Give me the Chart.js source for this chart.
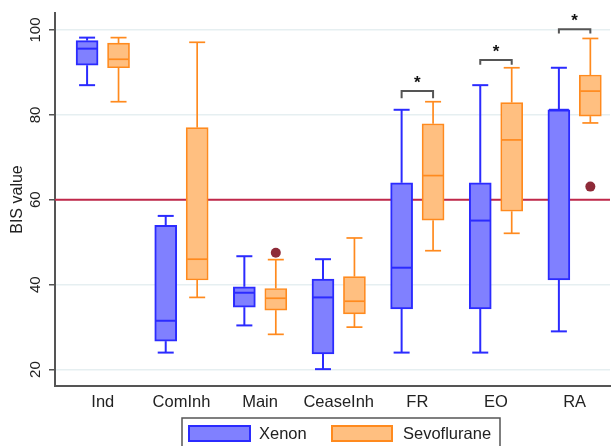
<!DOCTYPE html>
<html><head><meta charset="utf-8">
<script src="https://cdn.jsdelivr.net/npm/chart.js@4.4.1/dist/chart.umd.min.js"></script>
<style>html,body{margin:0;padding:0;background:#fff}#wrap{width:615px;height:446px}</style>
</head><body><div id="wrap"><canvas id="c" width="615" height="446"></canvas></div>
<script>
const categories = ['Ind','ComInh','Main','CeaseInh','FR','EO','RA'];
const xenonMin    = [87.0, 24.0, 30.4, 20.1, 24.0, 24.0, 29.0];
const xenonQ1     = [91.7, 26.7, 34.7, 23.7, 34.3, 34.3, 41.1];
const xenonMedian = [95.6, 31.5, 38.1, 37.0, 44.0, 55.1, 81.2];
const xenonQ3     = [97.5, 54.0, 39.5, 41.3, 64.0, 64.0, 81.2];
const xenonMax    = [98.2, 56.2, 46.7, 46.0, 81.2, 87.0, 91.1];
const sevoMin     = [83.1, 37.0, 28.3, 30.0, 48.0, 52.1, 78.1];
const sevoQ1      = [91.1, 41.1, 34.0, 33.1, 55.2, 57.3, 79.7];
const sevoMedian  = [93.1, 46.0, 36.8, 36.1, 65.7, 74.1, 85.6];
const sevoQ3      = [96.9, 77.0, 39.1, 41.9, 77.9, 82.9, 89.4];
const sevoMax     = [98.2, 97.1, 45.9, 51.0, 83.1, 91.1, 98.0];
const outlierCategory = ['Main', 'RA'];
const outlierValue    = [47.5, 63.1];
const yTicks = [20, 40, 60, 80, 100];
const referenceValue = 60;
const significantCategory = ['FR', 'EO', 'RA'];
const bracketTop = [85.6, 92.9, 100.2];
const bracketLow = [83.9, 91.8, 99.2];
const seriesNames = ['Xenon', 'Sevoflurane'];

// styles
const XEN_LINE = '#2b2bff', XEN_FILL = '#8080ff';
const SEV_LINE = '#ff8a1e', SEV_FILL = '#ffbf80';
const OUT_COLOR = '#8e2a38', REF_COLOR = '#c0284a';
const OFF = 0.2, BOXW = 22, CAPW = 16;
const FONT = "'Liberation Sans', Arial, sans-serif";

const pos = name => categories.indexOf(name) + 1;

const extras = {
  id: 'extras',
  beforeDatasetsDraw(chart) {
    const {ctx, chartArea: a, scales: {y}} = chart;
    const py = y.getPixelForValue(referenceValue);
    ctx.save();
    ctx.strokeStyle = REF_COLOR; ctx.lineWidth = 2;
    ctx.beginPath(); ctx.moveTo(a.left, py); ctx.lineTo(a.right, py); ctx.stroke();
    ctx.restore();
  },
  afterDatasetsDraw(chart) {
    const {ctx, scales: {x, y}} = chart;
    const groups = [
      {mn: xenonMin, q1: xenonQ1, md: xenonMedian, q3: xenonQ3, mx: xenonMax, off: -OFF, c: XEN_LINE, lw: 2},
      {mn: sevoMin, q1: sevoQ1, md: sevoMedian, q3: sevoQ3, mx: sevoMax, off: OFF, c: SEV_LINE, lw: 1.7}
    ];
    const seg = (x1, y1, x2, y2) => { ctx.beginPath(); ctx.moveTo(x1, y1); ctx.lineTo(x2, y2); ctx.stroke(); };
    ctx.save();
    groups.forEach(g => {
      ctx.strokeStyle = g.c; ctx.lineWidth = g.lw;
      categories.forEach((c, i) => {
        const cx = x.getPixelForValue(i + 1 + g.off);
        const pMax = y.getPixelForValue(g.mx[i]), pMin = y.getPixelForValue(g.mn[i]);
        seg(cx, y.getPixelForValue(g.q3[i]), cx, pMax);
        seg(cx - CAPW / 2, pMax, cx + CAPW / 2, pMax);
        seg(cx, y.getPixelForValue(g.q1[i]), cx, pMin);
        seg(cx - CAPW / 2, pMin, cx + CAPW / 2, pMin);
        const pm = y.getPixelForValue(g.md[i]);
        seg(cx - BOXW / 2 + 1, pm, cx + BOXW / 2 - 1, pm);
      });
    });
    // significance brackets
    ctx.strokeStyle = '#555'; ctx.lineWidth = 2;
    ctx.fillStyle = '#111'; ctx.font = 'bold 17px ' + FONT;
    ctx.textAlign = 'center'; ctx.textBaseline = 'alphabetic';
    significantCategory.forEach((name, k) => {
      const p = pos(name);
      const x1 = x.getPixelForValue(p - OFF), x2 = x.getPixelForValue(p + OFF);
      const yt = y.getPixelForValue(bracketTop[k]), yl = y.getPixelForValue(bracketLow[k]);
      ctx.beginPath(); ctx.moveTo(x1, yl); ctx.lineTo(x1, yt); ctx.lineTo(x2, yt); ctx.lineTo(x2, yl); ctx.stroke();
      ctx.fillText('*', x.getPixelForValue(p), yt - 3);
    });
    ctx.restore();
  },
  afterDraw(chart) {
    const {ctx} = chart;
    ctx.save();
    ctx.strokeStyle = '#555'; ctx.lineWidth = 1.5;
    ctx.strokeRect(182, 418, 318, 40);
    const items = [
      {x: 189, w: 61, tx: 259, fill: XEN_FILL, line: XEN_LINE},
      {x: 332, w: 60, tx: 403, fill: SEV_FILL, line: SEV_LINE}
    ];
    ctx.font = '16.5px ' + FONT; ctx.textBaseline = 'middle'; ctx.textAlign = 'left';
    items.forEach((it, k) => {
      ctx.fillStyle = it.fill; ctx.fillRect(it.x, 426, it.w, 15);
      ctx.strokeStyle = it.line; ctx.lineWidth = 2; ctx.strokeRect(it.x, 426, it.w, 15);
      ctx.fillStyle = '#222'; ctx.fillText(seriesNames[k], it.tx, 434);
    });
    ctx.restore();
  }
};

new Chart(document.getElementById('c'), {
  type: 'bar',
  data: {
    datasets: [
      {label: seriesNames[0], data: categories.map((c, i) => ({x: i + 1 - OFF, y: [xenonQ1[i], xenonQ3[i]]})),
       backgroundColor: XEN_FILL, borderColor: XEN_LINE, borderWidth: 2, borderSkipped: false,
       barThickness: BOXW, grouped: false},
      {label: seriesNames[1], data: categories.map((c, i) => ({x: i + 1 + OFF, y: [sevoQ1[i], sevoQ3[i]]})),
       backgroundColor: SEV_FILL, borderColor: SEV_LINE, borderWidth: 1.7, borderSkipped: false,
       barThickness: BOXW, grouped: false},
      {type: 'scatter', label: 'outliers',
       data: outlierCategory.map((c, k) => ({x: pos(c) + OFF, y: outlierValue[k]})),
       backgroundColor: OUT_COLOR, borderWidth: 0, pointRadius: 5}
    ]
  },
  options: {
    responsive: false, animation: false,
    layout: {padding: {left: 0, right: 2, top: 13, bottom: 0}},
    plugins: {legend: {display: false}, tooltip: {enabled: false}},
    scales: {
      x: {
        type: 'linear', min: 0.392, max: 7.45, offset: false,
        afterBuildTicks: s => { s.ticks = categories.map((c, i) => ({value: i + 1})); },
        afterFit: s => { s.height = 60; },
        grid: {display: false, drawTicks: false, offset: false},
        border: {display: true, color: '#555', width: 2},
        ticks: {callback: v => categories[Math.round(v) - 1], color: '#222', padding: 7,
                font: {family: FONT, size: 16.5}, maxRotation: 0, autoSkip: false}
      },
      y: {
        min: 16.13, max: 104,
        afterBuildTicks: s => { s.ticks = yTicks.map(v => ({value: v})); },
        afterFit: s => { s.width = 55; },
        grid: {color: '#e6eff1', lineWidth: 1.5, drawTicks: true, tickLength: 6, tickColor: '#555'},
        border: {display: true, color: '#555', width: 2},
        ticks: {color: '#222', font: {family: FONT, size: 15}, padding: 1, minRotation: 90, maxRotation: 90,
                crossAlign: 'center'},
        title: {display: true, text: 'BIS value', color: '#222', font: {family: FONT, size: 16},
                padding: {top: 8, bottom: 0}}
      }
    }
  },
  plugins: [extras]
});
</script></body></html>
